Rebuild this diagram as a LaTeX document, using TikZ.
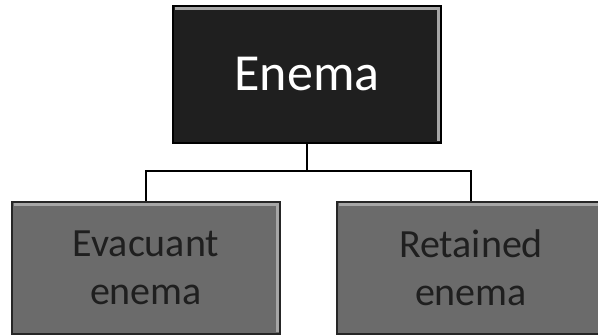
\documentclass[tikz,border=0pt]{standalone}
\usepackage{fontspec}
\setmainfont{Carlito}
\begin{document}
\begin{tikzpicture}[x=1pt,y=1pt,
  topbox/.style={rectangle, minimum width=268pt, minimum height=137pt, fill=black!88, draw=black, line width=1.2pt, text=white, font=\fontsize{52}{60}\selectfont, align=center, inner sep=0pt},
  subbox/.style={rectangle, minimum width=268pt, minimum height=132pt, fill=black!58, draw=black!85, line width=1.2pt, text=black!88, font=\fontsize{40}{48}\selectfont, align=center, inner sep=0pt},
  bevel/.style={draw=white!65!black, line width=2.5pt, line join=miter},
  conn/.style={draw=black, line width=1.3pt}]
\useasboundingbox (0,0) rectangle (598,336);
\clip (0,0) rectangle (598,336);
\node[topbox] (top) at (307,261.5) {Enema};
\node[subbox] (left) at (146,68) {Evacuant\\enema};
\node[subbox] (right) at (471,68) {Retained\\enema};
% bevel highlights (top and right edges)
\draw[bevel] ([shift={(3,-3)}]top.north west) -- ([shift={(-3,-3)}]top.north east) -- ([shift={(-3,3)}]top.south east);
\draw[bevel] ([shift={(3,-3)}]left.north west) -- ([shift={(-3,-3)}]left.north east) -- ([shift={(-3,3)}]left.south east);
\draw[bevel] ([shift={(3,-3)}]right.north west) -- ([shift={(-3,-3)}]right.north east);
\coordinate (mid) at (307,165);
\draw[conn] (top.south) -- (mid);
\draw[conn] (mid) -| (left.north);
\draw[conn] (mid) -| (right.north);
\end{tikzpicture}
\end{document}
